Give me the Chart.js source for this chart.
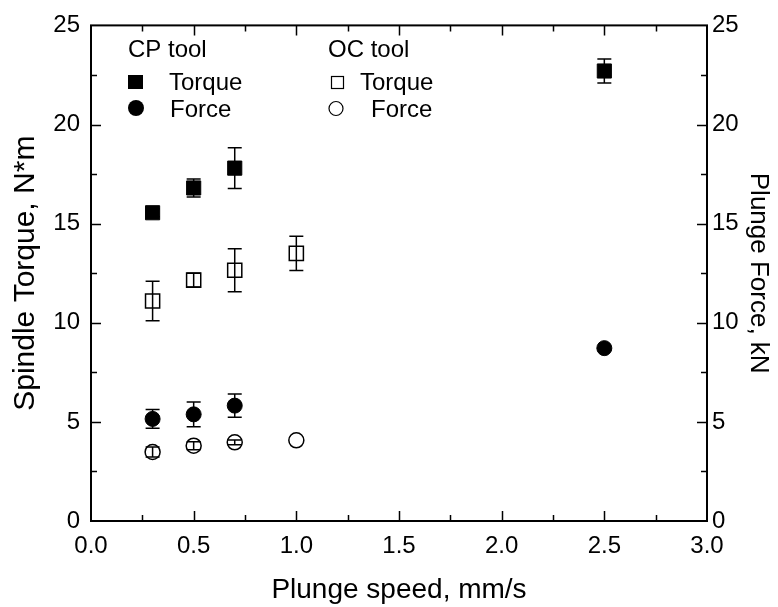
<!DOCTYPE html>
<html>
<head>
<meta charset="utf-8">
<script src="https://cdn.jsdelivr.net/npm/chart.js@4"></script>
<style>
  html, body { margin: 0; padding: 0; background: #fff; }
  #wrap { width: 778px; height: 607px; }
</style>
</head>
<body>
<div id="wrap"><canvas id="myChart"></canvas></div>
<script>
const FONT = "'Liberation Sans', Arial, sans-serif";

// plunge speed, mm/s
const cpSpeed = [0.3, 0.5, 0.7, 2.5];
const ocSpeed = [0.3, 0.5, 0.7, 1.0];

// spindle torque, N*m
const cpTorque = [15.55, 16.8, 17.8, 22.7];
const cpTorqueErr = [0.2, 0.45, 1.03, 0.6];
const ocTorque = [11.1, 12.15, 12.65, 13.5];
const ocTorqueErr = [1.0, 0.35, 1.08, 0.86];

// plunge force, kN
const cpForce = [5.15, 5.38, 5.82, 8.72];
const cpForceErr = [0.47, 0.62, 0.59, 0];
const ocForce = [3.48, 3.8, 3.97, 4.07];
const ocForceErr = [0.25, 0.2, 0.12, 0];

const xTicks = [0, 0.5, 1.0, 1.5, 2.0, 2.5, 3.0];
const yTicks = [0, 5, 10, 15, 20, 25];

function pts(xs, ys, es) {
  return xs.map((x, i) => ({ x: x, y: ys[i], err: es[i] }));
}

const datasets = [
  { label: 'CP Torque', data: pts(cpSpeed, cpTorque, cpTorqueErr), yAxisID: 'y',
    pointStyle: 'rect', pointRadius: 10, backgroundColor: '#000', borderColor: '#000', borderWidth: 1 },
  { label: 'OC Torque', data: pts(ocSpeed, ocTorque, ocTorqueErr), yAxisID: 'y',
    pointStyle: 'rect', pointRadius: 10, backgroundColor: '#fff', borderColor: '#000', borderWidth: 1.5 },
  { label: 'CP Force', data: pts(cpSpeed, cpForce, cpForceErr), yAxisID: 'y2',
    pointStyle: 'circle', pointRadius: 7.5, backgroundColor: '#000', borderColor: '#000', borderWidth: 1 },
  { label: 'OC Force', data: pts(ocSpeed, ocForce, ocForceErr), yAxisID: 'y2',
    pointStyle: 'circle', pointRadius: 7.5, backgroundColor: '#fff', borderColor: '#000', borderWidth: 1.5 },
];

// error bars, drawn through the scales
const errorBars = {
  id: 'errorBars',
  afterDatasetsDraw(chart) {
    const { ctx, scales: { x } } = chart;
    ctx.save();
    ctx.strokeStyle = '#000';
    ctx.lineWidth = 1.5;
    chart.data.datasets.forEach((ds) => {
      const y = chart.scales[ds.yAxisID];
      ds.data.forEach((p) => {
        if (!p.err) return;
        const px = x.getPixelForValue(p.x);
        const top = y.getPixelForValue(p.y + p.err);
        const bot = y.getPixelForValue(p.y - p.err);
        ctx.beginPath();
        ctx.moveTo(px, top); ctx.lineTo(px, bot);
        ctx.moveTo(px - 7, top); ctx.lineTo(px + 7, top);
        ctx.moveTo(px - 7, bot); ctx.lineTo(px + 7, bot);
        ctx.stroke();
      });
    });
    ctx.restore();
  }
};

// box frame with inward ticks on all four sides
const frame = {
  id: 'frame',
  afterDraw(chart) {
    const { ctx, chartArea: { top, bottom, left, right }, scales: { x, y } } = chart;
    ctx.save();
    ctx.strokeStyle = '#000';
    ctx.lineWidth = 2;
    ctx.strokeRect(left, top, right - left, bottom - top);
    ctx.lineWidth = 1.5;
    ctx.beginPath();
    for (let v = 0.25; v < 3; v += 0.25) {
      const px = Math.round(x.getPixelForValue(v)) + 0.5;
      const len = Math.abs(v * 2 - Math.round(v * 2)) < 1e-6 ? 10 : 6;
      ctx.moveTo(px, bottom); ctx.lineTo(px, bottom - len);
      ctx.moveTo(px, top); ctx.lineTo(px, top + len);
    }
    for (let v = 2.5; v < 25; v += 2.5) {
      const py = Math.round(y.getPixelForValue(v)) + 0.5;
      const len = v % 5 === 0 ? 10 : 6;
      ctx.moveTo(left, py); ctx.lineTo(left + len, py);
      ctx.moveTo(right, py); ctx.lineTo(right - len, py);
    }
    ctx.stroke();
    ctx.restore();
  }
};

// in-plot key
const keyBox = {
  id: 'keyBox',
  afterDraw(chart) {
    const { ctx } = chart;
    ctx.save();
    ctx.font = '24px ' + FONT;
    ctx.fillStyle = '#000';
    ctx.textBaseline = 'alphabetic';
    ctx.fillText('CP tool', 128, 57);
    ctx.fillText('Torque', 169, 90);
    ctx.fillText('Force', 170, 117);
    ctx.fillText('OC tool', 328, 57);
    ctx.fillText('Torque', 360, 90);
    ctx.fillText('Force', 371, 117);

    ctx.fillRect(128, 75, 15, 14);
    ctx.beginPath(); ctx.arc(136, 108, 8, 0, Math.PI * 2); ctx.fill();

    ctx.lineWidth = 1.2;
    ctx.strokeStyle = '#000';
    ctx.strokeRect(331.5, 76.5, 12, 12);
    ctx.beginPath(); ctx.arc(336, 108.5, 7, 0, Math.PI * 2); ctx.stroke();
    ctx.restore();
  }
};

function yAxis(pos, w, title, tickPad, titleSize, titlePad) {
  return {
    type: 'linear',
    position: pos,
    min: 0,
    max: 25,
    afterBuildTicks: (s) => { s.ticks = yTicks.map((v) => ({ value: v })); },
    afterFit: (s) => { s.width = w; },
    ticks: { color: '#000', font: { family: FONT, size: 24 }, padding: tickPad, callback: (v) => v },
    grid: { display: false, drawTicks: false },
    border: { display: false },
    title: { display: true, text: title, color: '#000', font: { family: FONT, size: titleSize }, padding: titlePad },
  };
}

new Chart(document.getElementById('myChart'), {
  type: 'scatter',
  data: { datasets: datasets },
  options: {
    responsive: true,
    maintainAspectRatio: false,
    animation: false,
    layout: { padding: { top: 20, left: 0, right: 0, bottom: 0 } },
    plugins: {
      legend: { display: false },
      tooltip: { enabled: false },
    },
    scales: {
      x: {
        type: 'linear',
        min: 0,
        max: 3,
        afterBuildTicks: (s) => { s.ticks = xTicks.map((v) => ({ value: v })); },
        afterFit: (s) => { s.height = 86; },
        ticks: { color: '#000', font: { family: FONT, size: 24 }, padding: 11, maxRotation: 0,
          callback: (v) => Number(v).toFixed(1) },
        grid: { display: false, drawTicks: false },
        border: { display: false },
        title: { display: true, text: 'Plunge speed, mm/s', color: '#000',
          font: { family: FONT, size: 28 }, padding: { top: 4, bottom: 0 } },
      },
      y: yAxis('left', 91, 'Spindle Torque, N*m', 11, 30, { top: 8, bottom: 0 }),
      y2: yAxis('right', 71, 'Plunge Force, kN', 5, 26, { top: 4, bottom: 4 }),
    },
  },
  plugins: [errorBars, frame, keyBox],
});
</script>
</body>
</html>
